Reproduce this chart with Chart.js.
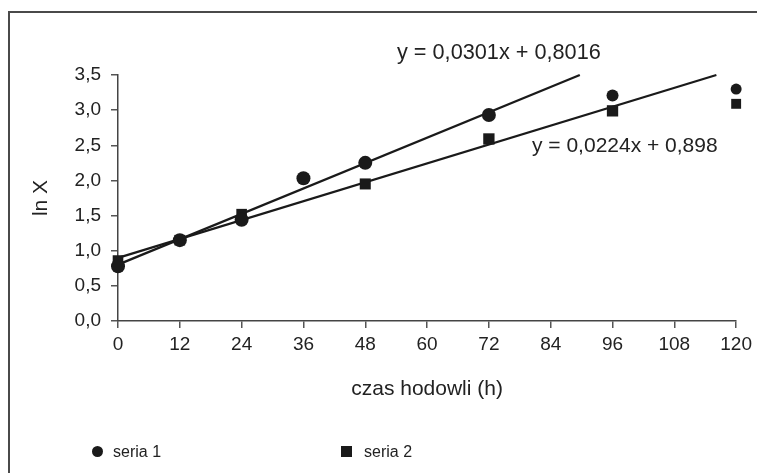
<!DOCTYPE html>
<html>
<head>
<meta charset="utf-8">
<script src="https://cdn.jsdelivr.net/npm/chart.js@4"></script>
<style>
  html, body { margin: 0; padding: 0; background: #fff; }
  #wrap { position: relative; width: 757px; height: 473px; overflow: hidden; }
  #ramka { position: absolute; left: 8px; top: 11px; width: 820px; height: 520px;
           border-left: 2px solid #4a4a4a; border-top: 2px solid #4a4a4a; }
  #wykres { position: absolute; left: 0; top: 0; }
  .leg { position: absolute; font: 16px "Liberation Sans", Arial, sans-serif; color: #222; }
  .kolko { position: absolute; width: 11px; height: 11px; border-radius: 50%; background: #1a1a1a; }
  .kwadrat { position: absolute; width: 11px; height: 11px; background: #1a1a1a; }
</style>
</head>
<body>
<div id="wrap">
  <div id="ramka"></div>
  <canvas id="wykres" width="757" height="473"></canvas>
  <div class="kolko" style="left:92px; top:446px;"></div>
  <div class="leg" style="left:113px; top:443px;">seria 1</div>
  <div class="kwadrat" style="left:341px; top:446px;"></div>
  <div class="leg" style="left:364px; top:443px;">seria 2</div>
</div>
<script>
// --- DANE ---
const czas1 = [0, 12, 24, 36, 48, 72, 96, 120];
const seria1 = [0.78, 1.15, 1.44, 2.03, 2.25, 2.93, 3.21, 3.30];
const czas2 = [0, 12, 24, 48, 72, 96, 120];
const seria2 = [0.86, 1.15, 1.52, 1.95, 2.59, 2.99, 3.09];

// linie trendu: y = a*x + b, rysowane do y = 3,5
const trend1 = { a: 0.0301, b: 0.8016, tekst: 'y = 0,0301x + 0,8016' };
const trend2 = { a: 0.0224, b: 0.898, tekst: 'y = 0,0224x + 0,898' };
const yTicks = [0, 0.5, 1, 1.5, 2, 2.5, 3, 3.5];
const xTicks = [0, 12, 24, 36, 48, 60, 72, 84, 96, 108, 120];

const FONT = '"Liberation Sans", Arial, sans-serif';
const CZARNY = '#1a1a1a';

function linia(t) {
    const yMax = yTicks[yTicks.length - 1];
    return [{ x: 0, y: t.b }, { x: (yMax - t.b) / t.a, y: yMax }];
}

// --- ROWNANIA NA WYKRESIE ---
const rownania = {
    id: 'rownania',
    afterDatasetsDraw(chart) {
        const ctx = chart.ctx;
        ctx.save();
        ctx.fillStyle = '#222';
        ctx.textBaseline = 'alphabetic';
        ctx.font = '21.7px ' + FONT;
        ctx.fillText(trend1.tekst, 397, 59);
        ctx.font = '21px ' + FONT;
        ctx.fillText(trend2.tekst, 532, 152);
        ctx.restore();
    }
};

new Chart(document.getElementById('wykres'), {
    type: 'scatter',
    data: {
        datasets: [
            {
                label: 'seria 1',
                data: czas1.map((x, i) => ({ x, y: seria1[i] })),
                pointStyle: 'circle',
                pointRadius: [7, 7, 7, 7, 7, 7, 6, 5.5],
                backgroundColor: CZARNY,
                borderColor: CZARNY,
                borderWidth: 0,
                clip: false
            },
            {
                label: 'seria 2',
                data: czas2.map((x, i) => ({ x, y: seria2[i] })),
                pointStyle: 'rect',
                pointRadius: [7.5, 7.5, 7.5, 7.8, 8, 8, 7],
                backgroundColor: CZARNY,
                borderColor: CZARNY,
                borderWidth: 0,
                clip: false
            },
            {
                type: 'line',
                data: linia(trend1),
                borderColor: CZARNY,
                borderWidth: 2.3,
                pointRadius: 0,
                clip: false
            },
            {
                type: 'line',
                data: linia(trend2),
                borderColor: CZARNY,
                borderWidth: 2.3,
                pointRadius: 0,
                clip: false
            }
        ]
    },
    options: {
        responsive: false,
        animation: false,
        events: [],
        layout: { padding: { top: 75, right: 19, bottom: 71, left: 0 } },
        plugins: { legend: { display: false }, tooltip: { enabled: false } },
        scales: {
            x: {
                type: 'linear',
                min: 0, max: 120,
                afterBuildTicks: s => { s.ticks = xTicks.map(v => ({ value: v })); },
                afterFit: s => { s.height = 81; },
                ticks: { color: '#222', font: { family: FONT, size: 19 }, padding: 5, maxRotation: 0 },
                grid: { drawOnChartArea: false, drawTicks: true, tickLength: 7, color: '#555', lineWidth: 1.5 },
                border: { color: '#444', width: 1.5 },
                title: { display: true, text: 'czas hodowli (h)', color: '#222',
                         font: { family: FONT, size: 21 }, padding: { top: 0, bottom: 0 } }
            },
            y: {
                min: 0, max: 3.5,
                afterBuildTicks: s => { s.ticks = yTicks.map(v => ({ value: v })); },
                afterFit: s => { s.width = 118; },
                ticks: { color: '#222', font: { family: FONT, size: 19 }, padding: 10,
                         callback: v => v.toFixed(1).replace('.', ',') },
                grid: { drawOnChartArea: false, drawTicks: true, tickLength: 7, color: '#555', lineWidth: 1.5 },
                border: { color: '#444', width: 1.5 },
                title: { display: true, text: 'ln X', color: '#222',
                         font: { family: FONT, size: 21 }, padding: { top: 29, bottom: 0 } }
            }
        }
    },
    plugins: [rownania]
});
</script>
</body>
</html>
